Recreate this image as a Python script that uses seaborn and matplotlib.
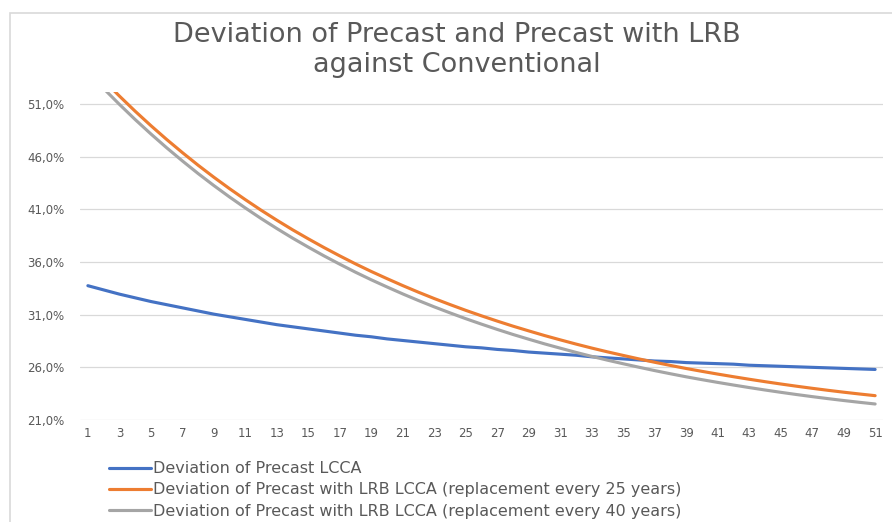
import matplotlib
matplotlib.use("Agg")
import matplotlib.pyplot as plt
import matplotlib.patches as mpatches
from matplotlib.ticker import FuncFormatter
import seaborn as sns
import pandas as pd

# values (percent)
years = list(range(1, 52))

precast = [33.75, 33.35, 32.95, 32.60, 32.25, 31.95, 31.65, 31.35, 31.05, 30.80,
           30.55, 30.30, 30.05, 29.85, 29.65, 29.45, 29.25, 29.05, 28.90, 28.70,
           28.55, 28.40, 28.25, 28.10, 27.95, 27.85, 27.70, 27.60, 27.45, 27.35,
           27.25, 27.15, 27.00, 26.90, 26.80, 26.70, 26.60, 26.55, 26.45, 26.40,
           26.35, 26.30, 26.20, 26.15, 26.10, 26.05, 26.00, 25.95, 25.90, 25.85,
           25.80]

lrb_25 = [54.84, 53.26, 51.76, 50.32, 48.95, 47.64, 46.39, 45.19, 44.05, 42.96,
          41.92, 40.92, 39.97, 39.06, 38.20, 37.37, 36.58, 35.82, 35.10, 34.42,
          33.76, 33.13, 32.53, 31.96, 31.41, 30.89, 30.39, 29.91, 29.46, 29.02,
          28.61, 28.21, 27.83, 27.47, 27.13, 26.80, 26.48, 26.18, 25.89, 25.62,
          25.36, 25.11, 24.87, 24.64, 24.42, 24.21, 24.01, 23.82, 23.64, 23.47,
          23.31]

lrb_40 = [54.05, 52.47, 50.97, 49.53, 48.16, 46.85, 45.60, 44.40, 43.26, 42.17,
          41.13, 40.13, 39.18, 38.27, 37.41, 36.58, 35.79, 35.03, 34.31, 33.63,
          32.97, 32.34, 31.74, 31.17, 30.62, 30.10, 29.60, 29.12, 28.67, 28.23,
          27.82, 27.42, 27.04, 26.68, 26.34, 26.01, 25.69, 25.39, 25.10, 24.83,
          24.57, 24.32, 24.08, 23.85, 23.63, 23.42, 23.22, 23.03, 22.85, 22.68,
          22.52]

series_names = [
    "Deviation of Precast LCCA",
    "Deviation of Precast with LRB LCCA (replacement every 25 years)",
    "Deviation of Precast with LRB LCCA (replacement every 40 years)",
]
y_ticks = [21, 26, 31, 36, 41, 46, 51]
x_ticks = list(range(1, 52, 2))

df = pd.concat([
    pd.DataFrame({"year": years, "value": vals, "series": name})
    for name, vals in zip(series_names, [precast, lrb_25, lrb_40])
])

sns.set_theme(style="white")
plt.rcParams["font.family"] = ["DejaVu Sans"]
text_col = "#595959"
grid_col = "#d9d9d9"

fig = plt.figure(figsize=(8.92, 5.22), dpi=100, facecolor="white")
ax = fig.add_axes([80 / 892, 1 - 420 / 522, 803 / 892, 328 / 522])

palette = dict(zip(series_names, ["#4472C4", "#ED7D31", "#A5A5A5"]))
sns.lineplot(data=df, x="year", y="value", hue="series", palette=palette,
             linewidth=2.25, ax=ax, legend=False)

ax.set_xlim(0.5, 51.5)
ax.set_ylim(21, 52.14)
ax.set_xticks(x_ticks)
ax.set_yticks(y_ticks)
ax.yaxis.set_major_formatter(FuncFormatter(lambda v, p: f"{v:.1f}%".replace(".", ",")))
ax.set_xlabel("")
ax.set_ylabel("")
ax.grid(axis="y", color=grid_col, linewidth=0.9)
ax.grid(axis="x", visible=False)
ax.set_axisbelow(True)
for s in ax.spines.values():
    s.set_visible(False)
ax.tick_params(axis="y", length=0, pad=11, labelsize=8.5, labelcolor=text_col)
ax.tick_params(axis="x", length=0, pad=5, labelsize=8.5, labelcolor=text_col)

# chart area border (partly cropped in the reference)
fig.patches.append(mpatches.Rectangle((10 / 892, -0.1), 1.2, 1 - 13 / 522 + 0.1,
                                      transform=fig.transFigure, fill=False,
                                      edgecolor=grid_col, linewidth=1.2))

fig.text(457 / 892, 1 - 50 / 522,
         "Deviation of Precast and Precast with LRB\nagainst Conventional",
         ha="center", va="center", fontsize=19.5, color=text_col, linespacing=1.25)

handles = [plt.Line2D([], [], color=palette[n], linewidth=2.25) for n in series_names]
fig.legend(handles, series_names, loc="upper left",
           bbox_to_anchor=(103 / 892, 1 - 455 / 522), frameon=False,
           fontsize=11.5, labelcolor=text_col, handlelength=2.6,
           handletextpad=0.1, labelspacing=0.38, borderaxespad=0)

fig.savefig("out.png", dpi=100, facecolor="white")
